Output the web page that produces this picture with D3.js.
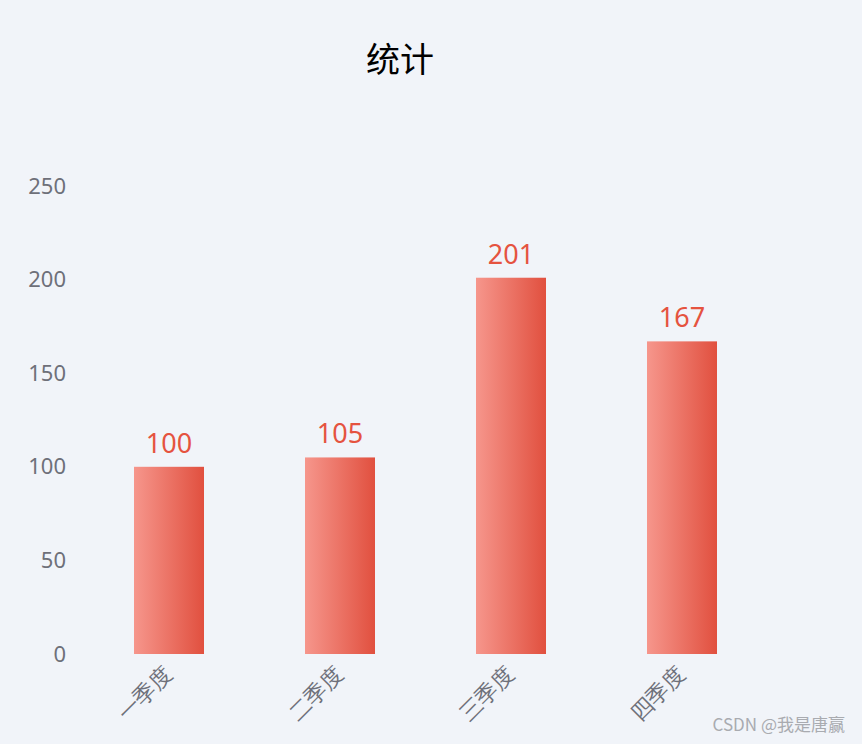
<!DOCTYPE html>
<html>
<head>
<meta charset="utf-8">
<script src="https://cdn.jsdelivr.net/npm/d3@7/dist/d3.min.js"></script>
<style>
  html, body { margin: 0; padding: 0; background: #f1f4f9; }
  svg { display: block; font-family: "Noto Sans CJK SC", "Noto Sans", sans-serif; }
</style>
</head>
<body>
<div id="chart"></div>
<script>
// chart data
const categories = ['一季度', '二季度', '三季度', '四季度'];
const values = [100, 105, 201, 167];
const yTicks = [0, 50, 100, 150, 200, 250];
const title = '统计';
const watermark = 'CSDN @我是唐赢';

const width = 862, height = 744;

const svg = d3.select('#chart').append('svg')
  .attr('width', width)
  .attr('height', height);

svg.append('rect')
  .attr('width', width).attr('height', height)
  .attr('fill', '#f1f4f9');

// gradient for the bars, light on the left, strong red on the right
const grad = svg.append('defs').append('linearGradient')
  .attr('id', 'barGrad')
  .attr('x1', '0%').attr('y1', '0%').attr('x2', '100%').attr('y2', '0%');
grad.append('stop').attr('offset', '0%').attr('stop-color', '#f6968c');
grad.append('stop').attr('offset', '100%').attr('stop-color', '#e1503f');

// scales
const x = d3.scaleBand().domain(categories).range([83.5, 767.5]).padding(0);
const y = d3.scaleLinear().domain([0, 250]).range([654, 186]);
const barWidth = 70;

// title
svg.append('text')
  .attr('x', 400).attr('y', 72)
  .attr('text-anchor', 'middle')
  .attr('font-size', 34)
  .attr('fill', '#000')
  .text(title);

// y axis, labels only
const yAxis = svg.append('g')
  .attr('transform', 'translate(66,0)')
  .call(d3.axisLeft(y).tickValues(yTicks).tickSize(0).tickPadding(0));
yAxis.select('.domain').remove();
yAxis.selectAll('text')
  .attr('font-size', 22)
  .attr('fill', '#6e7079')
  .attr('font-family', '"Noto Sans", sans-serif');

// x axis, rotated labels
const xAxis = svg.append('g')
  .attr('transform', 'translate(0,654)')
  .call(d3.axisBottom(x).tickSize(0).tickPadding(0));
xAxis.select('.domain').remove();
xAxis.selectAll('text')
  .attr('font-size', 22)
  .attr('fill', '#6e7079')
  .attr('text-anchor', 'end')
  .attr('dy', '0.35em')
  .attr('transform', 'translate(-1,16) rotate(-45)');

// bars
svg.selectAll('.bar')
  .data(values)
  .enter()
  .append('rect')
  .attr('class', 'bar')
  .attr('x', (d, i) => x(categories[i]) + x.bandwidth() / 2 - barWidth / 2)
  .attr('y', d => y(d))
  .attr('width', barWidth)
  .attr('height', d => y(0) - y(d))
  .attr('fill', 'url(#barGrad)');

// value labels
svg.selectAll('.val')
  .data(values)
  .enter()
  .append('text')
  .attr('class', 'val')
  .attr('x', (d, i) => x(categories[i]) + x.bandwidth() / 2)
  .attr('y', d => y(d) - 14)
  .attr('text-anchor', 'middle')
  .attr('font-size', 27)
  .attr('font-family', '"Noto Sans", sans-serif')
  .attr('fill', '#e5533f')
  .text(d => d);

// watermark
svg.append('text')
  .attr('x', 845).attr('y', 731)
  .attr('text-anchor', 'end')
  .attr('font-size', 17)
  .attr('fill', '#a9abb0')
  .text(watermark);
</script>
</body>
</html>
